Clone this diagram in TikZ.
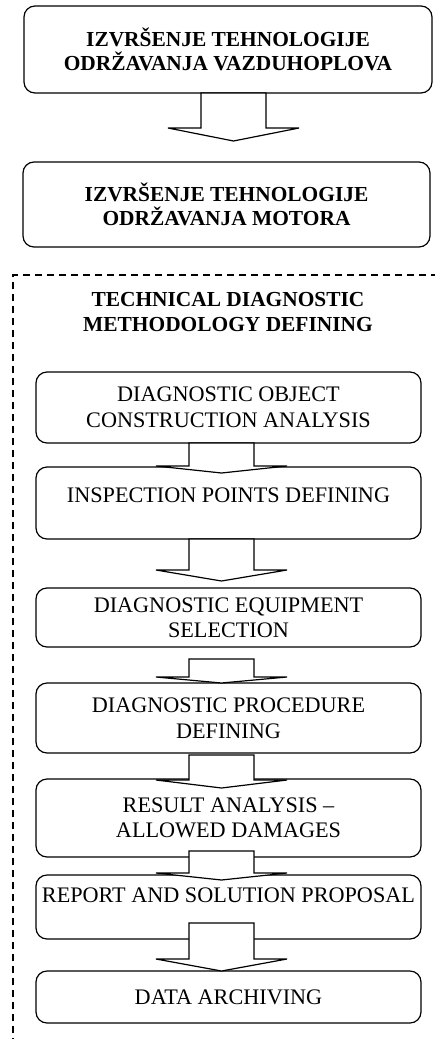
\documentclass[tikz,border=0pt]{standalone}
\usepackage{fontspec}
\setmainfont{Liberation Serif}
\begin{document}
\begin{tikzpicture}[x=1pt,y=-1pt,
  box/.style={draw, line width=1.2pt, rounded corners=11pt, align=center,
    inner sep=0pt, font=\fontsize{22.2}{25.5}\selectfont},
  topbox/.style={box, font=\fontsize{21.4}{23.5}\selectfont\bfseries},
  title/.style={align=center, inner sep=0pt, font=\fontsize{21.4}{25}\selectfont\bfseries},
  blockarrow/.style={draw, fill=white, line width=1.2pt, line join=miter},
  frame/.style={line width=1.2pt, dash pattern=on 7pt off 5pt}]
\useasboundingbox (0,0) rectangle (434,1039);

% block arrow: centre x, shaft top, head base, tip
\newcommand\flowarrow[4]{%
  \draw[blockarrow] (#1-32.5,#2) -- (#1-32.5,#3) -- (#1-65.5,#3) -- (#1,#4)
    -- (#1+65.5,#3) -- (#1+32.5,#3) -- (#1+32.5,#2) -- cycle;}

% dashed frame round the methodology part
\draw[frame] (13,1045) -- (13,275) -- (440,275);

% upper stages
\node[topbox, minimum width=408pt, minimum height=87pt] (air) at (228,49.5)
  {IZVRŠENJE TEHNOLOGIJE\\ODRŽAVANJA VAZDUHOPLOVA};
\node[topbox, minimum width=407pt, minimum height=85pt] (eng) at (226.5,204.5)
  {IZVRŠENJE TEHNOLOGIJE\\ODRŽAVANJA MOTORA};

\node[title] (meth) at (228,312.5) {TECHNICAL DIAGNOSTIC\\METHODOLOGY DEFINING};

% methodology steps
\node[box, minimum width=385pt, minimum height=71pt] (s1) at (228.5,407.5)
  {DIAGNOSTIC OBJECT\\CONSTRUCTION ANALYSIS};
\node[box, minimum width=385pt, minimum height=72pt] (s2) at (228.5,503)
  {\raisebox{8pt}[\height][\depth]{INSPECTION POINTS DEFINING}};
\node[box, minimum width=385pt, minimum height=59pt] (s3) at (228.5,617.5)
  {DIAGNOSTIC EQUIPMENT\\SELECTION};
\node[box, minimum width=385pt, minimum height=70pt] (s4) at (228.5,718)
  {DIAGNOSTIC PROCEDURE\\DEFINING};
\node[box, minimum width=385pt, minimum height=78pt] (s5) at (228.5,818)
  {RESULT ANALYSIS --\\ALLOWED DAMAGES};
\node[box, minimum width=385pt, minimum height=64pt] (s6) at (228.5,907)
  {\raisebox{12pt}[\height][\depth]{REPORT AND SOLUTION PROPOSAL}};
\node[box, minimum width=385pt, minimum height=52pt] (s7) at (228.5,997)
  {DATA ARCHIVING};

% arrows between the stages
\flowarrow{233.5}{93}{128}{141}
\flowarrow{221.5}{443}{466}{473}
\flowarrow{221.5}{539}{570}{581}
\flowarrow{221.5}{659}{677}{683}
\flowarrow{221.5}{755}{780}{788}
\flowarrow{221.5}{851}{873}{880}
\flowarrow{221.5}{923}{959}{971}
\end{tikzpicture}
\end{document}
